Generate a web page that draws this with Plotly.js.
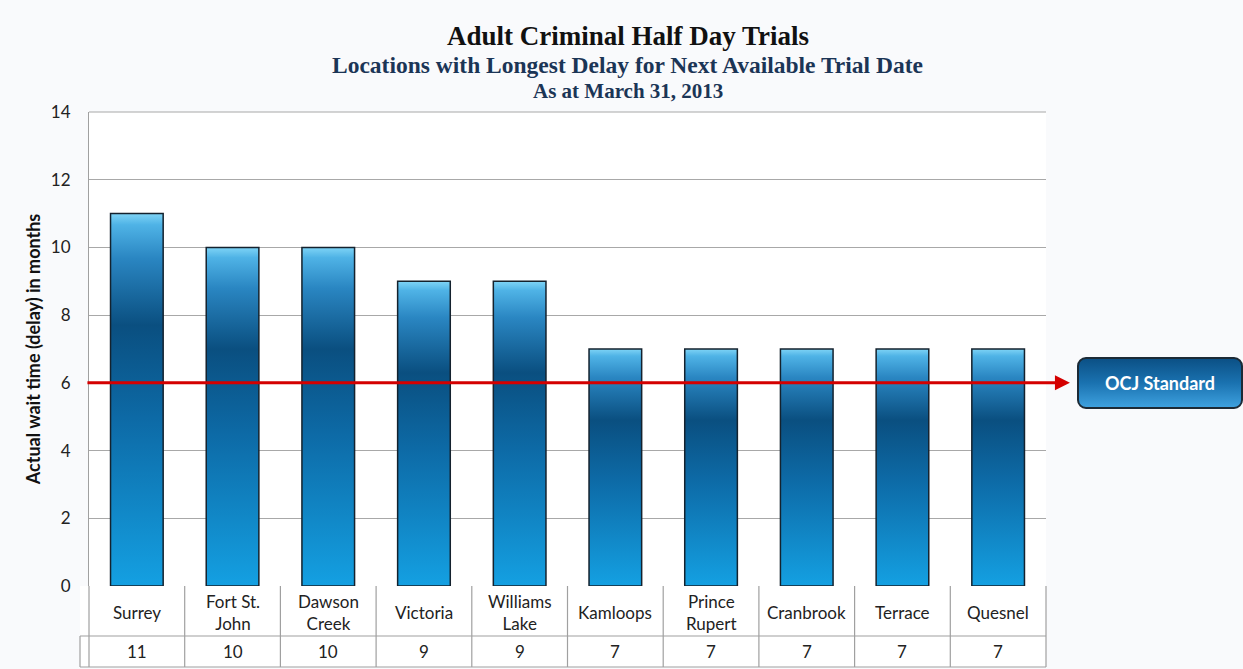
<!DOCTYPE html>
<html>
<head>
<meta charset="utf-8">
<script src="https://cdn.plot.ly/plotly-3.0.1.min.js"></script>
<style>
  body { margin: 0; background: #f9fafc; }
  #plotArea { width: 1243px; height: 669px; }
</style>
</head>
<body>
<div id="plotArea"></div>
<script>
// locations and wait times (months)
var locations = ["Surrey", "Fort St. John", "Dawson Creek", "Victoria", "Williams Lake",
                 "Kamloops", "Prince Rupert", "Cranbrook", "Terrace", "Quesnel"];
var tableLabels = ["Surrey", "Fort St.<br>John", "Dawson<br>Creek", "Victoria", "Williams<br>Lake",
                   "Kamloops", "Prince<br>Rupert", "Cranbrook", "Terrace", "Quesnel"];
var waitMonths = [11, 10, 10, 9, 9, 7, 7, 7, 7, 7];
var ocjStandard = 6;
var yTicks = [0, 2, 4, 6, 8, 10, 12, 14];

var font = "Lato, 'Open Sans', sans-serif";

var trace = {
    x: locations,
    y: waitMonths,
    type: 'bar',
    marker: {color: '#0b6aa6', line: {color: '#14222e', width: 1.5}},
    hoverinfo: 'x+y'
};

// table under the plot (paper coords)
var yRow1 = -0.1055, yRow2 = -0.1709;
var shapes = [
    {type: 'rect', xref: 'paper', yref: 'paper', x0: -0.0094, x1: 1, y0: yRow2, y1: 0,
     fillcolor: 'white', line: {width: 0}, layer: 'below'},
    {type: 'line', xref: 'paper', yref: 'paper', x0: 0, x1: 1, y0: 1, y1: 1, line: {color: '#a8a8a8', width: 1.2}},
    {type: 'line', xref: 'paper', yref: 'paper', x0: -0.0094, x1: 1, y0: yRow1, y1: yRow1, line: {color: '#a0a0a0', width: 1.2}},
    {type: 'line', xref: 'paper', yref: 'paper', x0: -0.0094, x1: 1, y0: yRow2, y1: yRow2, line: {color: '#a0a0a0', width: 1.2}},
    {type: 'line', xref: 'paper', yref: 'paper', x0: -0.0094, x1: -0.0094, y0: yRow2, y1: yRow1, line: {color: '#a0a0a0', width: 1.2}}
];
for (var k = 0; k <= locations.length; k++) {
    shapes.push({type: 'line', xref: 'paper', yref: 'paper', x0: k / locations.length, x1: k / locations.length,
                 y0: yRow2, y1: 0, line: {color: '#a0a0a0', width: 1.2}});
}

var titleFont = "'Liberation Serif', serif";
var annotations = [
    {text: '<b>Adult Criminal Half Day Trials</b>', xref: 'paper', yref: 'paper', x: 0.563, y: 1.160,
     xanchor: 'center', yanchor: 'middle', showarrow: false,
     font: {family: titleFont, size: 27, color: '#111'}},
    {text: '<b>Locations with Longest Delay for Next Available Trial Date</b>', xref: 'paper', yref: 'paper', x: 0.563, y: 1.099,
     xanchor: 'center', yanchor: 'middle', showarrow: false,
     font: {family: titleFont, size: 23.5, color: '#1b3556'}},
    {text: '<b>As at March 31, 2013</b>', xref: 'paper', yref: 'paper', x: 0.563, y: 1.044,
     xanchor: 'center', yanchor: 'middle', showarrow: false,
     font: {family: titleFont, size: 21, color: '#1b3556'}},
    // OCJ standard arrow line
    {text: '', xref: 'paper', yref: 'y', x: 1.025, y: ocjStandard, axref: 'pixel', ayref: 'pixel',
     ax: -984, ay: 0, showarrow: true, arrowhead: 2, arrowsize: 1, arrowwidth: 3, arrowcolor: '#d40000', standoff: 0},
    {text: '<b>OCJ Standard</b>', xref: 'paper', yref: 'y', x: 1.119, y: ocjStandard, showarrow: false,
     xanchor: 'center', yanchor: 'middle',
     width: 160, height: 46, bgcolor: '#1a72b0', bordercolor: '#1c2a36', borderwidth: 2,
     font: {family: font, size: 18, color: 'white'}}
];
for (var i = 0; i < locations.length; i++) {
    annotations.push({text: tableLabels[i], x: locations[i], xref: 'x', yref: 'paper', y: -0.0549,
                      xanchor: 'center', yanchor: 'middle', showarrow: false,
                      font: {family: font, size: 17, color: '#222'}});
    annotations.push({text: String(waitMonths[i]), x: locations[i], xref: 'x', yref: 'paper', y: -0.139,
                      xanchor: 'center', yanchor: 'middle', showarrow: false,
                      font: {family: font, size: 17, color: '#222'}});
}

var layout = {
    width: 1243,
    height: 669,
    margin: {l: 89, r: 197, t: 112, b: 83},
    paper_bgcolor: '#f9fafc',
    plot_bgcolor: 'white',
    bargap: 0.45,
    showlegend: false,
    font: {family: font, size: 17, color: '#222'},
    xaxis: {showticklabels: false, showgrid: false, zeroline: false, ticks: ''},
    yaxis: {
        range: [0, 14],
        tickvals: yTicks,
        showline: true,
        linecolor: '#a0a0a0',
        gridcolor: '#a8a8a8',
        gridwidth: 1.2,
        zeroline: false,
        ticks: '',
        ticklabelstandoff: 14,
        tickfont: {family: font, size: 17, color: '#222'},
        title: {text: '<b>Actual wait time (delay) in months</b>', standoff: 5,
                font: {family: font, size: 18, color: '#111'}}
    },
    shapes: shapes,
    annotations: annotations
};

Plotly.newPlot('plotArea', [trace], layout, {displayModeBar: false}).then(function (gd) {
    var svg = gd.querySelector('svg.main-svg');
    var ns = 'http://www.w3.org/2000/svg';
    var defs = svg.querySelector('defs');
    function addGrad(id, stops) {
        var grad = document.createElementNS(ns, 'linearGradient');
        grad.setAttribute('id', id);
        grad.setAttribute('x1', '0'); grad.setAttribute('y1', '0');
        grad.setAttribute('x2', '0'); grad.setAttribute('y2', '1');
        stops.forEach(function (s) {
            var st = document.createElementNS(ns, 'stop');
            st.setAttribute('offset', s[0]);
            st.setAttribute('stop-color', s[1]);
            grad.appendChild(st);
        });
        defs.appendChild(grad);
    }
    addGrad('barGrad', [['0', '#7fd4f6'], ['0.03', '#4fb3e6'], ['0.12', '#2a86c2'], ['0.3', '#0a4f80'],
                        ['0.55', '#0d6aa6'], ['1', '#14a0e2']]);
    addGrad('boxGrad', [['0', '#0b4f84'], ['0.5', '#1a72b0'], ['1', '#3fa2e0']]);
    gd.querySelectorAll('.bars path').forEach(function (p) {
        p.style.fill = 'url(#barGrad)';
    });
    var boxes = gd.querySelectorAll('.annotation rect.bg');
    var box = boxes[4];
    if (box) {
        box.setAttribute('rx', 8);
        box.setAttribute('ry', 8);
        box.style.fill = 'url(#boxGrad)';
    }
});
</script>
</body>
</html>
